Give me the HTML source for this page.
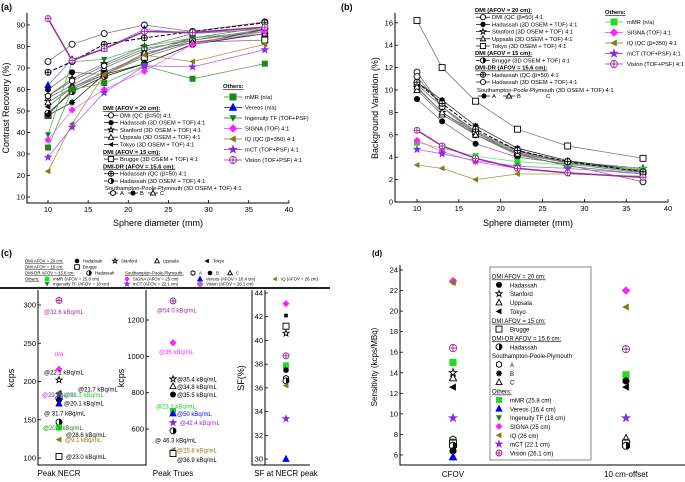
<!DOCTYPE html>
<html><head><meta charset="utf-8"><style>
body{margin:0;background:#fff;}
svg{display:block;font-family:"Liberation Sans",Arial,sans-serif;}
</style></head><body>
<svg id="fig" width="685" height="482" viewBox="0 0 685 482"></svg>
<script>
// ---------- DATA ----------
const sphereSizes = [10,13,17,22,28,37];
// panel a: contrast recovery (%)
const crDMIQC      = [73,81,86,90,87,91.5];
const crHadassah   = [60,68,67,76,84,89];
const crStanford   = [57,65,72,80,86,88];
const crUppsala    = [56,62,70,78,84,87];
const crTokyo      = [52,61,68,76,83,88];
const crBrugge     = [48,60,67,75,82,83];
const crDRQC       = [68,73,81,84,87,91];
const crDRHad      = [49,59,66,72,81,86];
const crA          = [57,64,71,79,83,87];
const crB          = [48,54,67,72,81,88];
const crC          = [54,61,67,77,82,86];
const crMMR        = [33,60,63,71,65,72];
const crVereos     = [62,74,79,88,86,89];
const crIngenuity  = [39,73,74,80,84,87];
const crSIGNA      = [36.5,50.5,60,68.5,81,87];
const crIQ         = [22,44,67,76,73,81];
const crMCT        = [28.5,42.5,58.5,71,70.5,78.5];
const crVision     = [93,73.5,79,87,86.5,89];
// panel b: background variation (%)
const bvDMIQC      = [11.6,8.5,6.0,4.2,3.3,1.8];
const bvHadassah   = [9.2,7.2,5.2,4.0,3.4,2.6];
const bvStanford   = [10.2,8.0,6.2,4.5,3.6,3.0];
const bvUppsala    = [10.0,7.8,6.0,4.4,3.5,2.9];
const bvTokyo      = [16.2,12.0,9.0,6.5,5.0,3.9];
const bvBrugge     = [10.5,8.5,6.3,4.6,3.5,2.8];
const bvDRQC       = [10.7,8.8,6.5,4.6,3.6,2.7];
const bvDRHad      = [11.2,8.5,6.2,4.3,3.2,2.5];
const bvA          = [10.7,9.1,6.8,4.8,3.7,2.8];
const bvB          = [10.3,8.0,6.0,4.3,3.5,2.7];
const bvMMR        = [5.3,4.8,4.1,3.6,3.3,2.9];
const bvSIGNA      = [5.5,4.5,3.6,3.0,2.6,2.2];
const bvIQ         = [3.3,3.0,2.0,2.5,2.5,2.3];
const bvMCT        = [4.7,4.3,3.7,3.2,3.0,2.5];
const bvVision     = [6.4,5.0,3.9,3.0,2.6,2.2];
// panel c
const necrSystems  = ['Vision','SIGNA','Stanford','Tokyo','mCT','Ingenuity','Hadassah','Vereos','Brugge-ish','DR-Hadassah','mMR','IQ','Brugge'];
const necrValues   = [306,216,202,185,183,183,176,171,147,140,140,124,102];
const necrLabels   = ['@32.6 kBq/mL','n/a','@22.1 kBq/mL','@21.7 kBq/mL','@29 kBq/mL','@23.1 kBq/mL','@20.1 kBq/mL','n/a','@ 31.7 kBq/mL','@28.6 kBq/mL','@20.3 kBq/mL','@9.1 kBq/mL','@23.0 kBq/mL'];
const truesValues  = [1305,1075,875,835,790,700,685,635,590,485,465];
const truesLabels  = ['@54.0 kBq/mL','@35 kBq/mL','@35.4 kBq/mL','@34.8 kBq/mL','@35.5 kBq/mL','@23.1 kBq/mL','@50 kBq/mL','@42.4 kBq/mL','@ 46.3 kBq/mL','@25.8 kBq/mL','@36.9 kBq/mL'];
const sfValues     = [43.1,42.1,41.2,40.6,38.7,37.9,37.5,36.8,36.6,36.2,33.4,30];
// panel d
const sensCFOV     = [22.9,22.8,16.4,15.0,14.0,13.5,12.6,9.6,7.5,7.3,7.1,6.9,6.4,5.8];
const sensOffset   = [22.0,20.4,16.3,13.8,13.2,12.6,9.6,7.6,7.3,7.1,6.9];

// ---------- HELPERS ----------
const NS='http://www.w3.org/2000/svg';
const svg=document.getElementById('fig');
function el(tag,attrs,parent){const e=document.createElementNS(NS,tag);for(const k in attrs)e.setAttribute(k,attrs[k]);(parent||svg).appendChild(e);return e;}
function txt(x,y,s,size,opts){opts=opts||{};const t=el('text',{x:x,y:y,'font-size':size,fill:opts.fill||'#000','text-anchor':opts.anchor||'start'});
 if(opts.weight)t.setAttribute('font-weight',opts.weight);if(opts.ul)t.setAttribute('text-decoration','underline');if(opts.rot)t.setAttribute('transform','rotate(-90 '+x+' '+y+')');t.textContent=s;
 
 
 return t;}
function marker(type,x,y,color,r){r=r||3.5;const g=el('g',{});
 
 
 const f=color, sw=0.9;
 if(type==='circle')el('circle',{cx:x,cy:y,r:r,fill:'#fff',stroke:f,'stroke-width':sw},g);
 else if(type==='fcircle')el('circle',{cx:x,cy:y,r:r,fill:f},g);
 else if(type==='half'){el('circle',{cx:x,cy:y,r:r,fill:'#fff',stroke:f,'stroke-width':sw},g);el('path',{d:`M${x},${y-r}A${r},${r} 0 0 1 ${x},${y+r}Z`,fill:f},g);}
 else if(type==='cross'){el('circle',{cx:x,cy:y,r:r,fill:f==='#000'?'#fff':'#fff',stroke:f,'stroke-width':sw},g);el('path',{d:`M${x-r},${y}H${x+r}M${x},${y-r}V${y+r}`,stroke:f,'stroke-width':sw},g);}
 else if(type==='square')el('rect',{x:x-r,y:y-r,width:2*r,height:2*r,fill:'#fff',stroke:f,'stroke-width':sw},g);
 else if(type==='fsquare')el('rect',{x:x-r,y:y-r,width:2*r,height:2*r,fill:f},g);
 else if(type==='tri'||type==='ftri'){el('path',{d:`M${x},${y-r*1.1}L${x+r},${y+r*0.8}L${x-r},${y+r*0.8}Z`,fill:type==='ftri'?f:'#fff',stroke:f,'stroke-width':sw},g);}
 else if(type==='down')el('path',{d:`M${x},${y+r*1.1}L${x+r},${y-r*0.8}L${x-r},${y-r*0.8}Z`,fill:f},g);
 else if(type==='left')el('path',{d:`M${x-r*1.1},${y}L${x+r*0.8},${y-r}L${x+r*0.8},${y+r}Z`,fill:f},g);
 else if(type==='diamond')el('path',{d:`M${x},${y-r*1.2}L${x+r*1.2},${y}L${x},${y+r*1.2}L${x-r*1.2},${y}Z`,fill:f},g);
 else if(type==='star'||type==='fstar'){let d='';for(let i=0;i<10;i++){const a=-Math.PI/2+i*Math.PI/5,rr=i%2?r*0.45:r*1.1;d+=(i?'L':'M')+(x+rr*Math.cos(a)).toFixed(1)+','+(y+rr*Math.sin(a)).toFixed(1);}el('path',{d:d+'Z',fill:type==='fstar'?f:'#fff',stroke:f,'stroke-width':sw},g);}
 else if(type==='hex'){let d='';for(let i=0;i<6;i++){const a=-Math.PI/2+i*Math.PI/3;d+=(i?'L':'M')+(x+r*Math.cos(a)).toFixed(1)+','+(y+r*Math.sin(a)).toFixed(1);}el('path',{d:d+'Z',fill:'#fff',stroke:f,'stroke-width':sw},g);}
 else if(type==='ast'){let d='';for(let i=0;i<4;i++){const a=i*Math.PI/4;d+=`M${x-r*Math.cos(a)},${y-r*Math.sin(a)}L${x+r*Math.cos(a)},${y+r*Math.sin(a)}`;}el('path',{d:d,stroke:f,'stroke-width':1.4},g);el('circle',{cx:x,cy:y,r:r*0.4,fill:f},g);}
 return g;}
function axisBox(x0,x1,y0,y1,right){el('path',{d:`M${x0},${y0}V${y1}H${x1}`+(right?`V${y0}`:''),stroke:'#000','stroke-width':1,fill:'none'});}
function yTicks(sc,vals,x,size,minor){vals.forEach(v=>{const y=sc(v);el('line',{x1:x,x2:x+3,y1:y,y2:y,stroke:'#000','stroke-width':0.8});txt(x-2,y+2.5,String(v),size,{anchor:'end',name:'y-tick-label'});});}
function xTicks(sc,vals,y,size){vals.forEach(v=>{const x=sc(v);el('line',{x1:x,x2:x,y1:y,y2:y-3,stroke:'#000','stroke-width':0.8});txt(x,y+9,String(v),size,{anchor:'middle',name:'x-tick-label'});});}
function series(xs,ys,sx,sy,type,color,lineColor,dash,lw){const pts=xs.map((v,i)=>sx(v).toFixed(1)+','+sy(ys[i]).toFixed(1)).join(' ');
 const pl=el('polyline',{points:pts,fill:'none',stroke:lineColor,'stroke-width':lw||0.8});if(dash)pl.setAttribute('stroke-dasharray',dash);
 
 
 xs.forEach((v,i)=>marker(type,sx(v),sy(ys[i]),color,3));}

// ---------- PANEL A ----------
txt(1,10,'(a)',9,{weight:'bold',name:'panel-a-label'});
const axA=v=>48+(v-10)*8.03, ayA=v=>197-(v-10)*2.15;
axisBox(27,289,13,203);
xTicks(axA,[10,15,20,25,30,35,40],203,7.5);
yTicks(ayA,[10,20,30,40,50,60,70,80,90],27,7.5);
txt(158,226,'Sphere diameter (mm)',9,{anchor:'middle',name:'x-axis-title-a'});
txt(9,108,'Contrast Recovery (%)',9,{anchor:'middle',rot:true,name:'y-axis-title-a'});
const grey='#777';
const aSeries=[[crDMIQC,'circle','#000',grey],[crHadassah,'fcircle','#000',grey],[crStanford,'star','#000',grey],[crUppsala,'tri','#000',grey],[crTokyo,'left','#000',grey],[crBrugge,'square','#000',grey],[crDRHad,'half','#000','#222'],[crA,'hex','#000',grey],[crB,'ast','#000','#333'],[crC,'tri','#000',grey],
 [crMMR,'fsquare','#1a8a1a','#5a5'],[crVereos,'ftri','#0000ee','#77e'],[crIngenuity,'down','#157a15','#5b5'],[crSIGNA,'diamond','#ff22ff','#f6f'],[crIQ,'left','#8a7a10','#a9953a'],[crMCT,'fstar','#8a2be2','#a6f']];
aSeries.forEach(s=>series(sphereSizes,s[0],axA,ayA,s[1],s[2],s[3]));
series(sphereSizes,crDRQC,axA,ayA,'cross','#000','#000','4,2',1);
series(sphereSizes,crVision,axA,ayA,'cross','#9b2a9b','#9b2a9b',null,1.5);
// legend a - DMI
const la=[['DMI (AFOV = 20 cm):',null],['DMI (QC (β=50) 4:1','circle'],['Hadassah (3D OSEM + TOF) 4:1','fcircle'],['Stanford (3D OSEM + TOF) 4:1','star'],['Uppsala (3D OSEM + TOF) 4:1','tri'],['Tokyo (3D OSEM + TOF) 4:1','left'],['DMI (AFOV = 15 cm):',null],['Brugge (3D OSEM + TOF) 4:1','square'],['DMI-DR (AFOV = 15.6 cm):',null],['Hadassah (QC (β=50) 4:1','cross'],['Hadassah (3D OSEM + TOF) 4:1','half']];
la.forEach((r,i)=>{const y=110+i*7.3;if(!r[1])txt(103,y,r[0],5.8,{weight:'bold',ul:true,name:'legend-heading'});else{el('line',{x1:104,x2:118,y1:y-2,y2:y-2,stroke:'#000','stroke-width':0.7});marker(r[1],111,y-2,'#000',2.6);txt(120,y,r[0],5.8,{name:'legend-entry'});}});
txt(105,190,'Southampton-Poole-Plymouth  (3D OSEM + TOF) 4:1',5.8,{name:'legend-entry'});
[['A','hex',108],['B','ast',128],['C','tri',148]].forEach(r=>{el('line',{x1:r[2],x2:r[2]+10,y1:193,y2:193,stroke:'#000','stroke-width':0.7});marker(r[1],r[2]+5,193,'#000',2.6);txt(r[2]+12,195,r[0],5.8,{name:'legend-entry'});});
txt(223,88,'Others:',5.8,{weight:'bold',ul:true,name:'legend-heading'});
const lo=[['mMR (n/a)','fsquare','#1a8a1a'],['Vereos (n/a)','ftri','#0000ee'],['Ingenuity TF (TOF+PSF)','down','#157a15'],['SIGNA (TOF) 4:1','diamond','#ff22ff'],['IQ (QC (β=350) 4:1','left','#8a7a10'],['mCT (TOF+PSF) 4:1','fstar','#8a2be2'],['Vision (TOF+PSF) 4:1','cross','#9b2a9b']];
lo.forEach((r,i)=>{const y=97+i*10.5;el('line',{x1:224,x2:242,y1:y,y2:y,stroke:r[2],'stroke-width':0.8});marker(r[1],233,y,r[2],3.5);txt(245,y+2,r[0],5.8,{name:'legend-entry'});});

// ---------- PANEL B ----------
txt(341,10,'(b)',9,{weight:'bold',name:'panel-b-label'});
const axB=v=>417+(v-10)*8.37, ayB=v=>202-v*11.2;
axisBox(395,668,13,202);
xTicks(axB,[10,15,20,25,30,35,40],202,7.5);
yTicks(ayB,[0,2,4,6,8,10,12,14,16],395,7.5);
txt(528,226,'Sphere diameter (mm)',9,{anchor:'middle',name:'x-axis-title-b'});
txt(378,108,'Background Variation (%)',9,{anchor:'middle',rot:true,name:'y-axis-title-b'});
const bSeries=[[bvDMIQC,'circle','#000',grey],[bvHadassah,'fcircle','#000',grey],[bvStanford,'star','#000',grey],[bvUppsala,'tri','#000',grey],[bvTokyo,'square','#000',grey],[bvBrugge,'half','#000',grey],[bvDRHad,'circle','#000',grey],[bvA,'ast','#000','#333'],[bvB,'tri','#000',grey],
 [bvMMR,'fsquare','#22dd22','#6e6'],[bvSIGNA,'diamond','#ff22ff','#f6f'],[bvIQ,'left','#8a7a10','#a9953a'],[bvMCT,'fstar','#8a2be2','#a6f']];
bSeries.forEach(s=>series(sphereSizes,s[0],axB,ayB,s[1],s[2],s[3]));
series(sphereSizes,bvDRQC,axB,ayB,'cross','#000','#000','4,2',1);
series(sphereSizes,bvVision,axB,ayB,'cross','#9b2a9b','#9b2a9b',null,1.5);
const lb=[['DMI (AFOV = 20 cm):',null],['DMI (QC (β=50) 4:1','circle'],['Hadassah (3D OSEM + TOF) 4:1','fcircle'],['Stanford (3D OSEM + TOF) 4:1','star'],['Uppsala (3D OSEM + TOF) 4:1','tri'],['Tokyo (3D OSEM + TOF) 4:1','square'],['DMI (AFOV = 15 cm):',null],['Brugge (3D OSEM + TOF) 4:1','half'],['DMI-DR (AFOV = 15.6 cm):',null],['Hadassah (QC (β=50) 4:1','cross'],['Hadassah (3D OSEM + TOF) 4:1','circle']];
lb.forEach((r,i)=>{const y=12+i*7.2;if(!r[1])txt(475,y,r[0],5.8,{weight:'bold',ul:true,name:'legend-heading'});else{el('line',{x1:476,x2:490,y1:y-2,y2:y-2,stroke:'#000','stroke-width':0.7});marker(r[1],483,y-2,'#000',2.6);txt(492,y,r[0],5.8,{name:'legend-entry'});}});
txt(477,92,'Southampton-Poole-Plymouth  (3D OSEM + TOF) 4:1',5.8,{name:'legend-entry'});
[['A','ast',478],['B','tri',503],['C',null,532]].forEach(r=>{if(r[1]){el('line',{x1:r[2],x2:r[2]+12,y1:96,y2:96,stroke:'#000','stroke-width':0.7});marker(r[1],r[2]+6,96,'#000',2.6);}txt(r[2]+14,98,r[0],5.8,{name:'legend-entry'});});
txt(605,14,'Others:',5.8,{weight:'bold',ul:true,name:'legend-heading'});
const lob=[['mMR (n/a)','fsquare','#22dd22'],['SIGNA (TOF) 4:1','diamond','#ff22ff'],['IQ (QC (β=350) 4:1','left','#8a7a10'],['mCT (TOF+PSF) 4:1','fstar','#8a2be2'],['Vision (TOF+PSF) 4:1','cross','#9b2a9b']];
lob.forEach((r,i)=>{const y=22+i*10.5;el('line',{x1:605,x2:623,y1:y,y2:y,stroke:r[2],'stroke-width':0.8});marker(r[1],614,y,r[2],3.5);txt(627,y+2,r[0],5.8,{name:'legend-entry'});});

// ---------- PANEL C ----------
txt(1,256,'(c)',9,{weight:'bold',name:'panel-c-label'});
const lc=[[25,261,'DMI AFOV = 20 cm:',null],[80,261,'Hadassah','fcircle','#000'],[118,261,'Stanford','star','#000'],[160,261,'Uppsala','tri','#000'],[210,261,'Tokyo','left','#000'],
 [25,267,'DMI AFOV = 15 cm:',null],[80,267,'Brugge','square','#000'],
 [25,273,'DMI-DR AFOV = 15.6 cm:',null],[92,273,'Hadassah','half','#000'],[125,273,'Southampton-Poole-Plymouth:',null],[196,273,'A','hex','#000'],[213,273,'B','ast','#000'],[233,273,'C','tri','#000'],
 [25,279,'Others:',null],[50,279,'mMR (AFOV = 25.8 cm)','fsquare','#22dd22'],[130,279,'SIGNA (AFOV = 25 cm)','diamond','#ff22ff'],[203,279,'Vereos (AFOV = 16.4 cm)','ftri','#0000ee'],[278,279,'IQ (AFOV = 26 cm)','left','#8a7a10'],
 [50,284,'Ingenuity TF (AFOV = 18 cm)','down','#157a15'],[130,284,'mCT (AFOV = 22.1 cm)','fstar','#8a2be2'],[203,284,'Vision (AFOV = 26.1 cm)','cross','#9b2a9b']];
lc.forEach(r=>{if(!r[3])txt(r[0],r[1]+1.5,r[2],4.3,{ul:true,name:'legend-heading'});else{marker(r[3],r[0]-3,r[1],r[4],2.3);txt(r[0]+3,r[1]+1.5,r[2],4.3,{name:'legend-entry'});}});
el('line',{x1:0,x2:330,y1:288,y2:288,stroke:'#000','stroke-width':1.8});
// NECR subplot
const ayN=v=>458-(v-100)*0.765;
el('path',{d:'M38,290V465H146V290',stroke:'#000',fill:'none','stroke-width':1});
el('path',{d:'M252,290V465H310',stroke:'#000',fill:'none','stroke-width':1});
el('line',{x1:265,x2:265,y1:290,y2:465,stroke:'#000','stroke-width':1});
yTicks(ayN,[100,150,200,250,300],38,7.5);
txt(14,378,'kcps',9,{anchor:'middle',rot:true,name:'y-axis-title-necr'});
txt(59,476,'Peak NECR',8,{anchor:'middle',name:'x-label-necr'});
const necrTypes=['cross','diamond','star','left','fstar','down','fcircle','ftri','half','fcircle','fsquare','left','square'];
const necrCols=['#9b2a9b','#ff22ff','#000','#000','#8a2be2','#157a15','#000','#0000ee','#000','#000','#22dd22','#8a7a10','#000'];
const necrLX=[44,55,44,78,42,64,64,55,44,66,43,65,66], necrLDY=[11,-16,-8,-4,0,0,3,-6,-9,7,0,0,0];
const necrLC=['#9b2a9b','#ff22ff','#000','#000','#8a2be2','#22cc22','#000','#0000ee','#000','#000','#157a15','#8a7a10','#000'];
necrValues.forEach((v,i)=>{marker(necrTypes[i],59,ayN(v),necrCols[i],3);txt(necrLX[i],ayN(v)+necrLDY[i]+2.5,necrLabels[i],6,{fill:necrLC[i],name:'necr-value-label'});});
// Trues subplot
const ayT=v=>320-(v-1200)*0.1817;
yTicks(ayT,[600,800,1000,1200],146,7.5);
txt(124,378,'kcps',9,{anchor:'middle',rot:true,name:'y-axis-title-trues'});
txt(173,476,'Peak Trues',8,{anchor:'middle',name:'x-label-trues'});
const trTypes=['cross','diamond','star','tri','fcircle','fsquare','ftri','fstar','half','left','square'];
const trCols=['#9b2a9b','#ff22ff','#000','#000','#000','#22dd22','#0000ee','#8a2be2','#000','#8a7a10','#000'];
const trLX=[157,159,177,177,177,156,177,180,155,177,177], trLDY=[9,9,0,0,0,-5,0,0,9,0,6];
const trLC=['#9b2a9b','#ff22ff','#000','#000','#000','#22cc22','#0000ee','#8a2be2','#000','#8a7a10','#000'];
truesValues.forEach((v,i)=>{marker(trTypes[i],173,ayT(v),trCols[i],3);txt(trLX[i],ayT(v)+trLDY[i]+2.5,truesLabels[i],6,{fill:trLC[i],name:'trues-value-label'});});
// SF subplot
const ayS=v=>293+(44-v)*11.86;
yTicks(ayS,[30,32,34,36,38,40,42,44],265,7.5);
txt(244,378,'SF(%)',9,{anchor:'middle',rot:true,name:'y-axis-title-sf'});
txt(286,476,'SF at NECR peak',8,{anchor:'middle',name:'x-label-sf'});
const sfTypes=['diamond','fsquare','square','star','cross','fsquare','ast','hex','half','left','fstar','ftri'];
const sfCols=['#ff22ff','#000','#000','#000','#9b2a9b','#22dd22','#000','#000','#000','#8a7a10','#8a2be2','#0000ee'];
sfValues.forEach((v,i)=>marker(sfTypes[i],286,ayS(v),sfCols[i],i===1?1.8:3));

// ---------- PANEL D ----------
txt(372,256,'(d)',8,{weight:'bold',name:'panel-d-label'});
const ayD=v=>455-(v-6)*10.28;
el('path',{d:'M400,265V465H685',stroke:'#000',fill:'none','stroke-width':1});
yTicks(ayD,[6,8,10,12,14,16,18,20,22,24],400,7.5);
txt(377,367,'Sensitivity (kcps/MBq)',8,{anchor:'middle',rot:true,name:'y-axis-title-d'});
txt(453,477,'CFOV',8,{anchor:'middle',name:'x-label-cfov'});
txt(626,477,'10 cm-offset',8,{anchor:'middle',name:'x-label-offset'});
const dcTypes=['diamond','left','cross','fsquare','star','tri','left','fstar','hex','down','square','half','fcircle','ftri'];
const dcCols=['#ff22ff','#8a7a10','#9b2a9b','#22dd22','#000','#000','#000','#8a2be2','#000','#157a15','#000','#000','#000','#0000ee'];
sensCFOV.forEach((v,i)=>marker(dcTypes[i],453,ayD(v),dcCols[i],3.6));
const doTypes=['diamond','left','cross','fsquare','fcircle','left','fstar','tri','down','square','half'];
const doCols=['#ff22ff','#8a7a10','#9b2a9b','#22dd22','#000','#000','#8a2be2','#000','#157a15','#000','#000'];
sensOffset.forEach((v,i)=>marker(doTypes[i],626,ayD(v),doCols[i],3.6));
const box=el('rect',{x:490,y:267,width:101,height:193,fill:'#fff',stroke:'#888','stroke-width':1});


const ld=[['DMI AFOV = 20 cm:',null],['Hadassah','fcircle','#000'],['Stanford','star','#000'],['Uppsala','tri','#000'],['Tokyo','left','#000'],['DMI AFOV = 15 cm:',null],['Brugge','square','#000'],['DMI-DR AFOV = 15.6 cm:',null],['Hadassah','half','#000'],['Southampton-Poole-Plymouth','plain'],['A','hex','#000'],['B','ast','#000'],['C','tri','#000'],['Others:',null],['mMR (25.8 cm)','fsquare','#22dd22'],['Vereos (16.4 cm)','ftri','#0000ee'],['Ingenuity TF (18 cm)','down','#157a15'],['SIGNA (25 cm)','diamond','#ff22ff'],['IQ (26 cm)','left','#8a7a10'],['mCT (22.1 cm)','fstar','#8a2be2'],['Vision (26.1 cm)','cross','#9b2a9b']];
ld.forEach((r,i)=>{const y=276+i*8.85;if(!r[1])txt(492,y+2.5,r[0],6,{ul:true,name:'legend-heading'});else if(r[1]==='plain')txt(492,y+2.5,r[0],6,{name:'legend-heading'});else{marker(r[1],499,y,r[2],3);txt(510,y+2.5,r[0],6,{name:'legend-entry'});}});
</script>
</body></html>
